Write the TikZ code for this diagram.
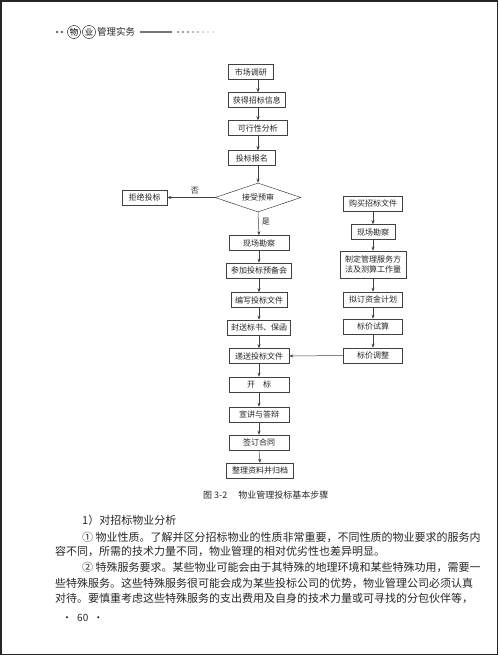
\documentclass[tikz,border=0pt]{standalone}
\usepackage{fontspec}
\setmainfont{Noto Sans CJK SC}
\usetikzlibrary{shapes.geometric,arrows.meta,positioning}

\begin{document}
\begin{tikzpicture}[x=1pt,y=-1pt,
    etape/.style={draw=black!75, line width=0.5pt, fill=white, inner sep=0pt,
        minimum height=15pt, font=\fontsize{8}{10}\selectfont, text=black!85},
    losange/.style={etape, diamond, aspect=3, minimum width=86pt, minimum height=29pt},
    fleche/.style={draw=black!75, line width=0.5pt, -{Stealth[length=4pt,width=3pt]}},
    ligne/.style={anchor=west, inner sep=0pt, font=\fontsize{11}{11}\selectfont, text=black!85}]
\useasboundingbox (0,0) rectangle (500,656);
% cadre de la page
\draw[line width=1.5pt, black!85] (1,1) rectangle (497.5,654.5);

% en-tete
\fill[black!60] (57,32) circle (1.3) (62,32) circle (1.3);
\node[draw, circle, line width=0.4pt, inner sep=0pt, minimum size=13pt, font=\fontsize{8.5}{9}\selectfont] (wu) at (74,32) {物};
\node[draw, circle, line width=0.4pt, inner sep=0pt, minimum size=13pt, font=\fontsize{8.5}{9}\selectfont] (ye) at (89,32) {业};
\node[anchor=west, inner sep=0pt, font=\fontsize{9.5}{10}\selectfont, text=black!85] (titre) at (97,32) {管理实务};
\fill[black!55] (140,31) rectangle (172,33);
\foreach \i in {0,...,7} \fill[black!50] (178+5*\i,32) circle (1.2-0.09*\i);

% colonne de gauche
\coordinate (axe) at (258,0);
\node[etape, anchor=west, minimum width=45pt] (n1) at (228,72) {市场调研};
\node[etape, anchor=west, minimum width=57pt] (n2) at (228,100) {获得招标信息};
\node[etape, anchor=west, minimum width=59pt] (n3) at (228,128) {可行性分析};
\node[etape, anchor=west, minimum width=47pt] (n4) at (228,158) {投标报名};
\node[losange] (d) at (258,197.5) {接受预审};
\node[etape, minimum width=45pt] (r) at (144.5,197.5) {拒绝投标};
\node[etape, minimum width=60pt] (n5) at (259,243) {现场勘察};
\node[etape, minimum width=65pt] (n6) at (259,270.5) {参加投标预备会};
\node[etape, minimum width=56pt] (n7) at (259,300) {编写投标文件};
\node[etape, minimum width=63pt] (n8) at (259,327.5) {封送标书、保函};
\node[etape, minimum width=60pt] (n9) at (259,356) {递送投标文件};
\node[etape, minimum width=60pt] (n10) at (259,384.5) {开\hspace{8pt}标};
\node[etape, minimum width=60pt] (n11) at (259,414.5) {宣讲与答辩};
\node[etape, minimum width=60pt] (n12) at (259,442.5) {签订合同};
\node[etape, minimum width=67pt] (n13) at (260,470.5) {整理资料并归档};

% colonne de droite
\node[etape, minimum width=59pt] (m1) at (373,203.5) {购买招标文件};
\node[etape, minimum width=44pt] (m2) at (373,232) {现场勘察};
\node[etape, minimum width=66pt, minimum height=27pt, align=center] (m3) at (373,264.5) {制定管理服务方\\法及测算工作量};
\node[etape, minimum width=59pt] (m4) at (373,299.5) {拟订资金计划};
\node[etape, minimum width=59pt] (m5) at (373,326.5) {标价试算};
\node[etape, minimum width=59pt] (m6) at (373,355.5) {标价调整};

% fleches
\draw[fleche] (n1.south -| axe) -- (n2.north -| axe);
\draw[fleche] (n2.south -| axe) -- (n3.north -| axe);
\draw[fleche] (n3.south -| axe) -- (n4.north -| axe);
\draw[fleche] (n4.south -| axe) -- (d.north);
\draw[fleche] (d.west) -- node[above, pos=0.42, font=\fontsize{8}{9}\selectfont, text=black!85] {否} (r.east);
\draw[fleche] (d.south) -- node[right, pos=0.4, font=\fontsize{8}{9}\selectfont, text=black!85] {是} (n5.north);
\foreach \a/\b in {n5/n6, n6/n7, n7/n8, n8/n9, n9/n10, n10/n11, n11/n12, n12/n13, m1/m2, m2/m3, m3/m4, m4/m5, m5/m6}
    \draw[fleche] (\a.south) -- (\b.north);
\draw[fleche] (m6.west) -- (n9.east);

% legende et texte
\node[anchor=west, inner sep=0pt, font=\fontsize{9}{10}\selectfont, text=black!85] (legende) at (203,495) {图 3-2\hspace{11pt}物业管理投标基本步骤};
\node[ligne] (L0) at (82,520) {1）对招标物业分析};
\node[ligne] (L1) at (82,537) {① 物业性质。了解并区分招标物业的性质非常重要，不同性质的物业要求的服务内};
\node[ligne] (L2) at (55,551.5) {容不同，所需的技术力量不同，物业管理的相对优劣性也差异明显。};
\node[ligne] (L3) at (82,567) {② 特殊服务要求。某些物业可能会由于其特殊的地理环境和某些特殊功用，需要一};
\node[ligne] (L4) at (55,583) {些特殊服务。这些特殊服务很可能会成为某些投标公司的优势，物业管理公司必须认真};
\node[ligne] (L5) at (55,598) {对待。要慎重考虑这些特殊服务的支出费用及自身的技术力量或可寻找的分包伙伴等，};
\node[anchor=west, inner sep=0pt, font=\fontsize{10}{10}\selectfont, text=black!85] (page) at (62,618) {·\hspace{5pt}60\hspace{5pt}·};
\end{tikzpicture}
\end{document}
